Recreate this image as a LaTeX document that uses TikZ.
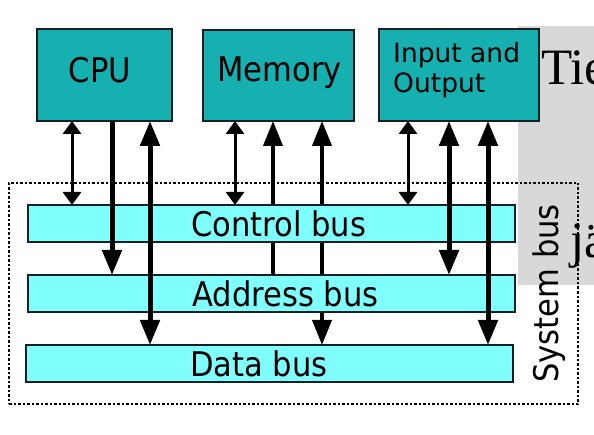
\documentclass[tikz,border=0pt]{standalone}
\usepackage{fontspec}
\setmainfont{DejaVu Sans}
\newfontfamily\labfont[FakeStretch=0.9]{DejaVu Sans}
\newfontfamily\iofont{DejaVu Sans}
\newfontfamily\serfont{Liberation Serif}
\usetikzlibrary{arrows.meta}
\definecolor{boxteal}{RGB}{22,176,176}
\definecolor{buscyan}{RGB}{128,255,255}
\definecolor{bggray}{RGB}{216,216,216}
\definecolor{edgecol}{RGB}{20,30,35}
\begin{document}
\begin{tikzpicture}[x=1pt,y=-1pt,
  unitbox/.style={draw=edgecol, line width=1.5pt, fill=boxteal, inner sep=0pt, outer sep=0pt},
  busbar/.style={draw=edgecol, line width=1.5pt, fill=buscyan, inner sep=0pt, outer sep=0pt, minimum height=37pt},
  biglabel/.style={font=\labfont\fontsize{34}{40}\selectfont, inner sep=0pt, text=black},
  iolabel/.style={font=\iofont\fontsize{26.5}{30}\selectfont, inner sep=0pt, text=black, anchor=base west},
  serlabel/.style={font=\serfont\fontsize{51}{51}\selectfont, inner sep=0pt, text=black, anchor=base west},
  smalltip/.tip={Triangle[width=18pt,length=13pt]},
  bigtip/.tip={Triangle[width=19pt,length=25pt]},
  thinlink/.style={line width=3pt, draw=black},
  thicklink/.style={line width=5pt, draw=black},
  memlink/.style={line width=4pt, draw=black},
  sysframe/.style={draw=black, line width=1.3pt, dash pattern=on 2.5pt off 2pt, inner sep=0pt, outer sep=0pt}
]
\useasboundingbox (0,0) rectangle (594,435);
\fill[white] (0,0) rectangle (594,435);

% grey overlay with clipped serif text
\fill[bggray] (518,26) rectangle (594,285);
\begin{scope}
  \clip (518,26) rectangle (594,285);
  \node[serlabel] (tie) at (541,85) {Tie};
  \node[serlabel] (ja) at (570,258) {jä};
\end{scope}

% system bus frame
\node[sysframe, minimum width=569pt, minimum height=221pt] (sys) at (293.5,293.5) {};
\node[biglabel, rotate=90] (syslab) at (549,293.5) {System bus};

% units
\node[unitbox, minimum width=135pt, minimum height=92pt] (cpu) at (104.5,75) {};
\node[unitbox, minimum width=151pt, minimum height=91pt] (mem) at (278.5,75.5) {};
\node[unitbox, minimum width=160pt, minimum height=92pt] (io) at (459,75) {};
\node[biglabel, anchor=base] (cpulab) at (100,83) {CPU};
\node[biglabel, anchor=base] (memlab) at (279.5,82) {Memory};
\node[iolabel] (iolab1) at (393,63) {Input and};
\node[iolabel] (iolab2) at (393,93) {Output};

% bus bar positions (drawn later), named coordinates for the memory links
\coordinate (ctltop) at (0,205);
\coordinate (adrtop) at (0,275);
\coordinate (dattop) at (0,345);

% x positions of the connectors
\coordinate (xa) at (72,0);
\coordinate (xb) at (112,0);
\coordinate (xc) at (150,0);
\coordinate (xd) at (235,0);
\coordinate (xe) at (273,0);
\coordinate (xf) at (322,0);
\coordinate (xg) at (408,0);
\coordinate (xh) at (449,0);
\coordinate (xi) at (488,0);

% Memory links run behind the bus bars
\draw[memlink, -bigtip] (adrtop -| xe) -- (mem.south -| xe);
\draw[memlink, bigtip-bigtip] (mem.south -| xf) -- (dattop -| xf);

% bus bars
\node[busbar, minimum width=487pt] (ctl) at (271.5,223.5) {};
\node[busbar, minimum width=487pt] (adr) at (271.5,293.5) {};
\node[busbar, minimum width=487pt] (dat) at (269.5,363.5) {};
\node[biglabel, anchor=west] (ctllab) at (191,223.5) {Control bus};
\node[biglabel, anchor=west] (adrlab) at (192,293.5) {Address bus};
\node[biglabel, anchor=west] (datlab) at (190,363.5) {Data bus};

% CPU connectors
\draw[thinlink, smalltip-smalltip] (cpu.south -| xa) -- (ctl.north -| xa);
\draw[thicklink, -bigtip] (cpu.south -| xb) -- (adr.north -| xb);
\draw[thicklink, bigtip-bigtip] (cpu.south -| xc) -- (dat.north -| xc);
% Memory control link
\draw[thinlink, smalltip-smalltip] (mem.south -| xd) -- (ctl.north -| xd);
% I/O connectors
\draw[thinlink, smalltip-smalltip] (io.south -| xg) -- (ctl.north -| xg);
\draw[thicklink, bigtip-bigtip] (io.south -| xh) -- (adr.north -| xh);
\draw[thicklink, bigtip-bigtip] (io.south -| xi) -- (dat.north -| xi);
\end{tikzpicture}
\end{document}
